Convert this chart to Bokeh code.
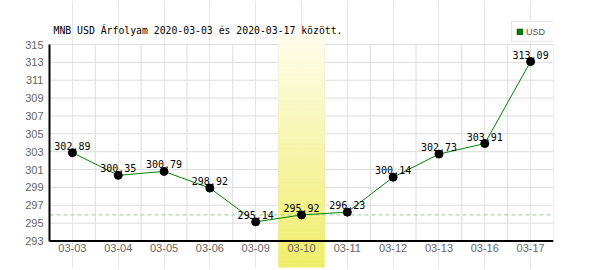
from bokeh.plotting import figure
from bokeh.models import FactorRange, Range1d, FixedTicker, Legend, LegendItem
from bokeh.core.properties import value
from bokeh.embed import file_html
from bokeh.resources import INLINE

# ---- data ----
dates = ["03-03", "03-04", "03-05", "03-06", "03-09", "03-10",
         "03-11", "03-12", "03-13", "03-16", "03-17"]
rates = [302.89, 300.35, 300.79, 298.92, 295.14, 295.92,
         296.23, 300.14, 302.73, 303.91, 313.09]
highlight_date = "03-10"
reference_level = 295.92
y_ticks = list(range(293, 316, 2))
series_name = "USD"
title_text = "MNB USD Árfolyam 2020-03-03 és 2020-03-17 között."

# ---- layout constants ----
W, H = 600, 270
frame_left, frame_right, frame_top, frame_bottom = 49, 553, 0, 267
y_lo, y_hi = y_ticks[0], y_ticks[-1]
py_hi, py_lo = 44.0, 240.5          # pixel rows of y_hi / y_lo
k = (py_lo - py_hi) / (y_hi - y_lo)


def px_to_y(py):
    return y_hi + (py_hi - py) / k


y_start = px_to_y(frame_bottom)
y_end = px_to_y(frame_top)
band_top = px_to_y(33)
title_y = px_to_y(29.5)

GREEN = "#008000"
GRID = "#dddddd"
TICK_TXT = "#666666"
MONO = "DejaVu Sans Mono"
SANS = "Liberation Sans"

p = figure(width=W, height=H,
           x_range=FactorRange(*dates, range_padding=0),
           y_range=Range1d(y_start, y_end),
           x_axis_location=None, y_axis_location="left",
           output_backend="svg", toolbar_location=None,
           min_border_left=frame_left, min_border_right=W - frame_right,
           min_border_top=frame_top, min_border_bottom=H - frame_bottom)
p.outline_line_color = None
p.background_fill_color = "white"
p.border_fill_color = "white"

# y axis
yax = p.yaxis[0]
yax.ticker = FixedTicker(ticks=y_ticks)
yax.bounds = (y_lo, y_hi)
yax.axis_line_width = 2
yax.axis_line_color = "black"
yax.major_tick_line_color = None
yax.minor_tick_line_color = None
yax.major_tick_out = 0
yax.major_tick_in = 0
yax.major_label_standoff = 6
yax.major_label_text_font = SANS
yax.major_label_text_font_size = "11px"
yax.major_label_text_color = TICK_TXT

# horizontal grid lines (limited to the plotting box)
gy = y_ticks[1:]
p.segment(x0=[(dates[0], -0.5)] * len(gy), y0=gy, x1=[(dates[-1], 0.5)] * len(gy), y1=gy,
          line_color=GRID, line_width=1)
p.ygrid.grid_line_color = None

# vertical grid lines at category boundaries (plus right border)
vx = [(d, 0.5) for d in dates]
p.segment(x0=vx, y0=[y_lo] * len(vx), x1=vx, y1=[y_hi] * len(vx),
          line_color=GRID, line_width=1)

# highlight band (vertical gradient)
N = 60
top_rgb = (254, 253, 236)
bot_rgb = (239, 237, 104)
bottoms, tops, cols = [], [], []
for i in range(N):
    b = y_start + (band_top - y_start) * i / N
    t = y_start + (band_top - y_start) * (i + 1) / N
    f = (i + 0.5) / N
    c = tuple(int(round(bot_rgb[j] + (top_rgb[j] - bot_rgb[j]) * f)) for j in range(3))
    bottoms.append(b)
    tops.append(t)
    cols.append("#%02x%02x%02x" % c)
p.vbar(x=[highlight_date] * N, width=1, bottom=bottoms, top=tops,
       fill_color=cols, line_color=cols, line_width=0.6)

# reference dashed line
p.line(x=[(dates[0], -0.5), (dates[-1], 0.5)], y=[reference_level] * 2,
       line_color="#9cc79c", line_width=1, line_dash="4 3")

# bottom axis line
p.line(x=[(dates[0], -0.5), (dates[-1], 0.5)], y=[y_lo] * 2,
       line_color="black", line_width=2)

# data
p.line(x=dates, y=rates, line_color=GREEN, line_width=1)
p.scatter(x=dates, y=rates, size=8, fill_color="black", line_color="black")
p.text(x=dates, y=rates, text=["%.2f" % v for v in rates],
       text_align="center", text_baseline="alphabetic", y_offset=-7,
       text_font=value(MONO), text_font_size="10px", text_color="black")

# x tick labels
p.text(x=dates, y=[y_lo] * len(dates), text=dates,
       text_align="center", text_baseline="top", y_offset=3,
       text_font=value(SANS), text_font_size="11px", text_color=TICK_TXT)

# title
p.text(x=[(dates[0], -0.5)], y=[title_y], text=[title_text], x_offset=4,
       text_align="left", text_baseline="alphabetic",
       text_font=value(MONO), text_font_size="9.8px", text_color="black")

# legend (swatch renderer holds no drawable point)
leg_r = p.rect(x=[dates[0]], y=[float("nan")], width=1, height=1,
               fill_color=GREEN, line_color="#005a00")
legend = Legend(items=[LegendItem(label=series_name, renderers=[leg_r])],
                location=(511 - frame_left, frame_bottom - 42),
                glyph_width=7, glyph_height=7, label_standoff=3,
                label_width=25, label_height=11, padding=4, spacing=0, margin=0,
                border_line_color="#cccccc", border_line_width=1,
                background_fill_color="white", background_fill_alpha=1,
                label_text_font=SANS, label_text_font_size="9px",
                label_text_color="#555555")
p.add_layout(legend)

open("out.html", "w").write(file_html(p, INLINE))
